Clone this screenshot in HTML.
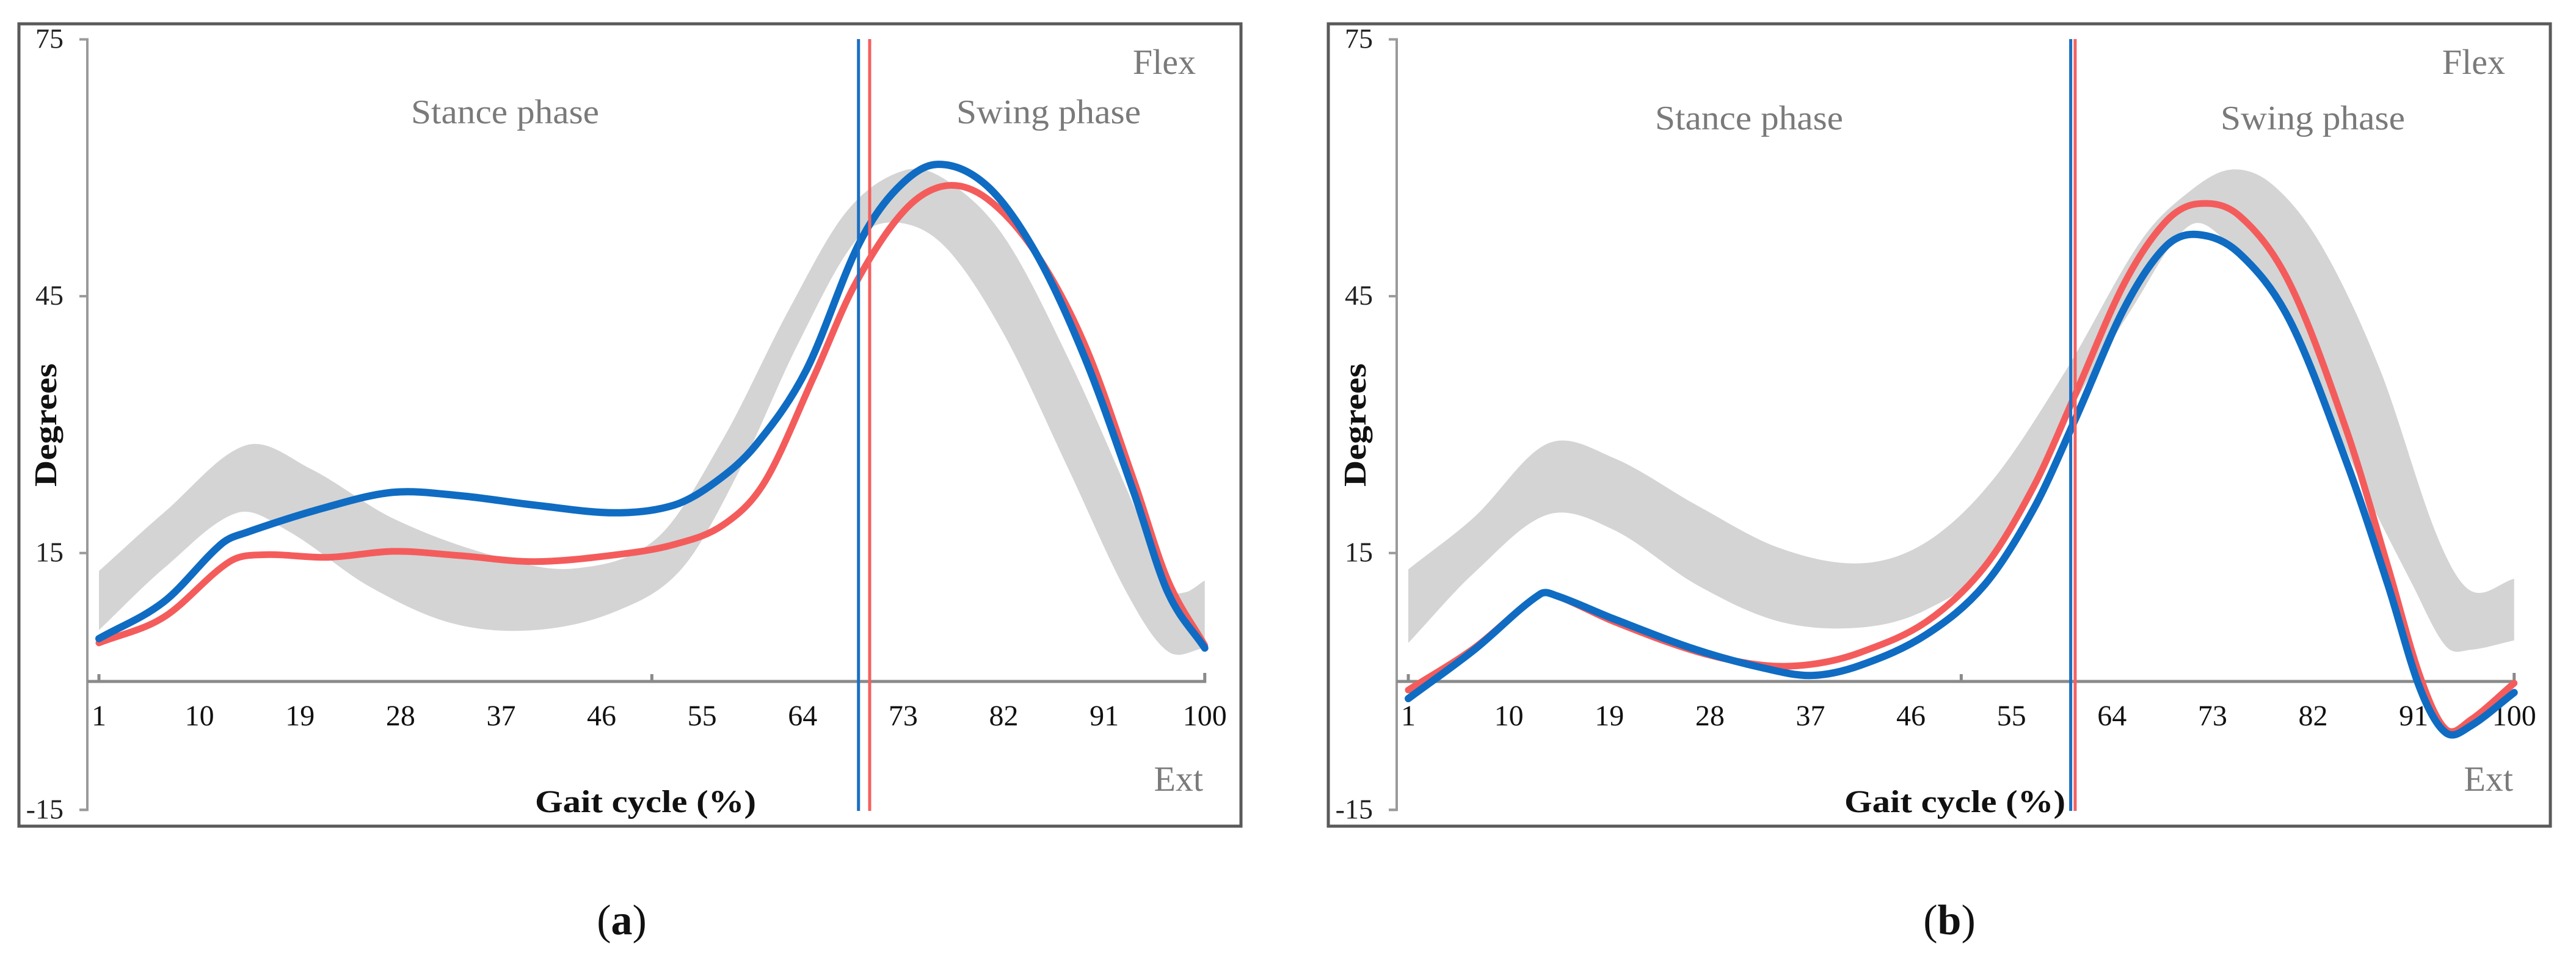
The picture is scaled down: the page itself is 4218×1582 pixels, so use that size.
<!DOCTYPE html>
<html><head><meta charset="utf-8"><style>
html,body{margin:0;padding:0;background:#fff;}
svg{display:block;font-family:"Liberation Serif",serif;}
</style></head><body>
<svg id="fig" xmlns="http://www.w3.org/2000/svg" width="4218" height="1582" viewBox="0 0 4218 1582">
<rect x="0" y="0" width="4218" height="1582" fill="#fff"/>
</svg>
<script>
// ---- Panel (a) data ----
const aBlueX=[1,6.8,12,14.2,21.5,27.4,33.3,40,47.3,52.5,56.2,59.8,64.3,69,72.4,76,80.5,84.9,89.3,93.7,96.7,100];
const aBlueY=[5,9.3,16.1,17.4,20.4,22.1,21.7,20.6,19.7,20.6,23.3,27.6,36.3,51,57.5,60.4,57.9,50,37.7,21.9,10.4,3.9];
const aRedX=[1,6.8,12.7,15.7,21.5,27.4,33.3,40,47.3,52.5,56.9,60.6,65,68.7,73.1,76.8,80.5,84.9,89.3,93.7,96.7,100];
const aRedY=[4.5,7.5,14,14.8,14.5,15.2,14.7,14,14.8,16,18.3,23.3,35.6,46.4,55,57.9,56.4,50,39.2,23.3,11.8,4.2];
const aUpX=[1,6.8,14.2,20,27.4,36.3,43.6,51,56.9,62.8,68,73.1,76.8,82,87.8,93.7,96.7,98.2,100];
const aUpY=[12.9,19.7,27.6,24.8,19,14.7,13.2,16.8,28.4,43.5,55,59.7,58.6,52,37.7,20.4,11.1,10.4,11.8];
const aLoX=[1,6.8,13.4,17.9,25.2,32.6,40,47.3,53.2,58.4,63.5,68.7,72.4,76.8,82,87.8,93,96.7,100];
const aLoY=[6,13.2,19.7,17.6,11.1,6.8,6,8.2,13.2,24.8,39.2,51.4,53.6,50.7,40.6,24.8,10.4,3.5,3.9];
const aToeOff=[69,70]; // blue, red
// ---- Panel (b) data ----
const bBlueX=[1,6.9,12.8,14.3,19.4,26.8,32.7,37.1,41.5,47.4,52.6,57,60.7,65.1,68.8,71.7,75.4,79.9,85,88.7,91.6,93.9,96.1,100];
const bBlueY=[-2,3.7,10.2,10,7.3,3.7,1.6,0.7,1.9,5.5,11.3,20.2,30.6,43.6,50.8,52.2,50,42.2,25.6,11.3,-0.9,-6,-5.2,-1.3];
const bRedX=[1,6.9,12.8,14.3,19.4,26.8,32.7,37.1,41.5,47.4,52.6,57,60.7,65.1,68.8,71.7,75.4,79.9,85,88.7,91.6,93.9,96.1,100];
const bRedY=[-1,3.9,10.2,10,7,3.5,1.9,2,3.4,7,13.4,22.8,33.5,46.5,53.7,55.8,54.4,46.5,29.3,13.4,0.5,-5.6,-4.5,-0.2];
const bUpX=[1,6.9,13.5,19.4,26.8,34.2,41.5,47.4,53.3,59.9,66.6,71,74.7,78.4,82.8,88,93.1,96.1,100];
const bUpY=[13.1,19.2,27.8,26.1,20.6,15.6,13.8,16.3,23.5,36.4,51.5,57.3,59.8,58,50.8,36.4,17,10.6,12];
const bLoX=[1,6.9,13.5,19.4,26.8,34.2,41.5,47.4,53.3,59.2,65.8,71,74.7,79.9,85.7,90.9,93.9,96.1,100];
const bLoY=[4.5,12.7,19.5,17.7,11.3,7,6.3,8.4,14.2,29.2,43.6,53.3,50.7,42.2,24.9,11.3,4.1,3.7,4.8];
const bToeOff=[60.3,60.7];
// ---- axes ----
const yTicks=[75,45,15,-15];
const xTicks=[1,10,19,28,37,46,55,64,73,82,91,100];

const NS="http://www.w3.org/2000/svg";
const svg=document.getElementById('fig');
function xs(d){return 162+(d-1)*18.29;}
function ys(v){return 1116-v*14.02;}
function el(tag,attrs,parent,text){const e=document.createElementNS(NS,tag);for(const k in attrs)e.setAttribute(k,attrs[k]);if(text!==undefined)e.textContent=text;parent.appendChild(e);return e;}
function pts(X,Y){return X.map((x,i)=>[xs(x),ys(Y[i])]);}
function crPath(p,move){
  const n=p.length;const m=[];
  for(let i=0;i<n;i++){const a=p[Math.max(0,i-1)],b=p[Math.min(n-1,i+1)];m.push((b[1]-a[1])/(b[0]-a[0]));}
  let d=move?`M${p[0][0]},${p[0][1]}`:`L${p[0][0]},${p[0][1]}`;
  for(let i=0;i<n-1;i++){const p1=p[i],p2=p[i+1];const h=(p2[0]-p1[0])/3;
    d+=`C${p1[0]+h},${p1[1]+m[i]*h} ${p2[0]-h},${p2[1]-m[i+1]*h} ${p2[0]},${p2[1]}`;}
  return d;}

function panel(off,cfg){
  const g=el('g',{transform:`translate(${off},0)`},svg);
  
  
  const fr=el('rect',{x:31,y:39,width:2001,height:1314,fill:'none',stroke:'#5a5a5a','stroke-width':5},g);
  
  
  const up=pts(cfg.upX,cfg.upY), lo=pts(cfg.loX,cfg.loY).reverse();
  const band=el('path',{d:crPath(up,true)+crPath(lo,false)+'Z',fill:'#d4d4d4',stroke:'none'},g);
  
  
  const ya=el('path',{d:`M130,${ys(75)}H143V${ys(-15)}H130`,fill:'none',stroke:'#9a9a9a','stroke-width':4},g);
  
  
  yTicks.forEach(t=>{
    const tk=el('line',{x1:130,x2:143,y1:ys(t),y2:ys(t),stroke:'#9a9a9a','stroke-width':4},g);
    
    
    const tl=el('text',{x:104,y:ys(t)+14,'text-anchor':'end','font-size':46,fill:'#222'},g,String(t));
    
    
  });
  const xa=el('path',{d:`M143,${ys(0)}H${xs(100)}V${ys(0)-14}M${xs(1)},${ys(0)}V${ys(0)-12}M${xs(50.5)},${ys(0)}V${ys(0)-12}`,fill:'none',stroke:'#8a8a8a','stroke-width':5},g);
  
  
  xTicks.forEach(t=>{
    const tl=el('text',{x:xs(t),y:1188,'text-anchor':'middle','font-size':48,fill:'#111'},g,String(t));
    
    
  });
  const r=el('path',{d:crPath(pts(cfg.redX,cfg.redY),true),fill:'none',stroke:'#f45c5c','stroke-width':11,'stroke-linecap':'round'},g);
  
  
  const b=el('path',{d:crPath(pts(cfg.blueX,cfg.blueY),true),fill:'none',stroke:'#0f6cc2','stroke-width':12,'stroke-linecap':'round'},g);
  
  
  const vb=el('line',{x1:xs(cfg.toe[0]),x2:xs(cfg.toe[0]),y1:64,y2:1328,stroke:'#1a6fc4','stroke-width':5},g);
  
  
  const vr=el('line',{x1:xs(cfg.toe[1]),x2:xs(cfg.toe[1]),y1:64,y2:1328,stroke:'#f46060','stroke-width':5},g);
  
  
  const s=el('text',{x:cfg.stanceX,y:cfg.phaseY,'text-anchor':'middle','font-size':56,fill:'#7a7a7a',textLength:308,lengthAdjust:'spacingAndGlyphs'},g,'Stance phase');
  
  
  const w=el('text',{x:cfg.swingX,y:cfg.phaseY,'text-anchor':'middle','font-size':56,fill:'#7a7a7a',textLength:302,lengthAdjust:'spacingAndGlyphs'},g,'Swing phase');
  
  
  const f=el('text',{x:cfg.flexR,y:121,'text-anchor':'end','font-size':58,fill:'#7a7a7a'},g,'Flex');
  
  
  const e=el('text',{x:cfg.extR,y:1295,'text-anchor':'end','font-size':58,fill:'#7a7a7a'},g,'Ext');
  
  
  const gx=el('text',{x:1057,y:1330,'text-anchor':'middle','font-size':52,'font-weight':'bold',fill:'#111',textLength:362,lengthAdjust:'spacingAndGlyphs'},g,'Gait cycle (%)');
  
  
  const dg=el('text',{x:0,y:0,'text-anchor':'middle','font-size':52,'font-weight':'bold',fill:'#111',textLength:202,lengthAdjust:'spacingAndGlyphs',transform:'translate(92,696) rotate(-90)'},g,'Degrees');
  
  
  const cap=el('text',{x:cfg.capX,y:1530,'text-anchor':'middle','font-size':70,fill:'#111'},g);
  
  
  el('tspan',{},cap,'(');
  el('tspan',{'font-weight':'bold'},cap,cfg.letter);
  el('tspan',{},cap,')');
}
panel(0,{name:'panel-a',upX:aUpX,upY:aUpY,loX:aLoX,loY:aLoY,blueX:aBlueX,blueY:aBlueY,redX:aRedX,redY:aRedY,toe:aToeOff,stanceX:827,swingX:1717,phaseY:202,flexR:1958,extR:1970,capX:1018,letter:'a'});
panel(2144,{name:'panel-b',upX:bUpX,upY:bUpY,loX:bLoX,loY:bLoY,blueX:bBlueX,blueY:bBlueY,redX:bRedX,redY:bRedY,toe:bToeOff,stanceX:720,swingX:1643,phaseY:212,flexR:1958,extR:1971,capX:1048,letter:'b'});
</script>
</body></html>
